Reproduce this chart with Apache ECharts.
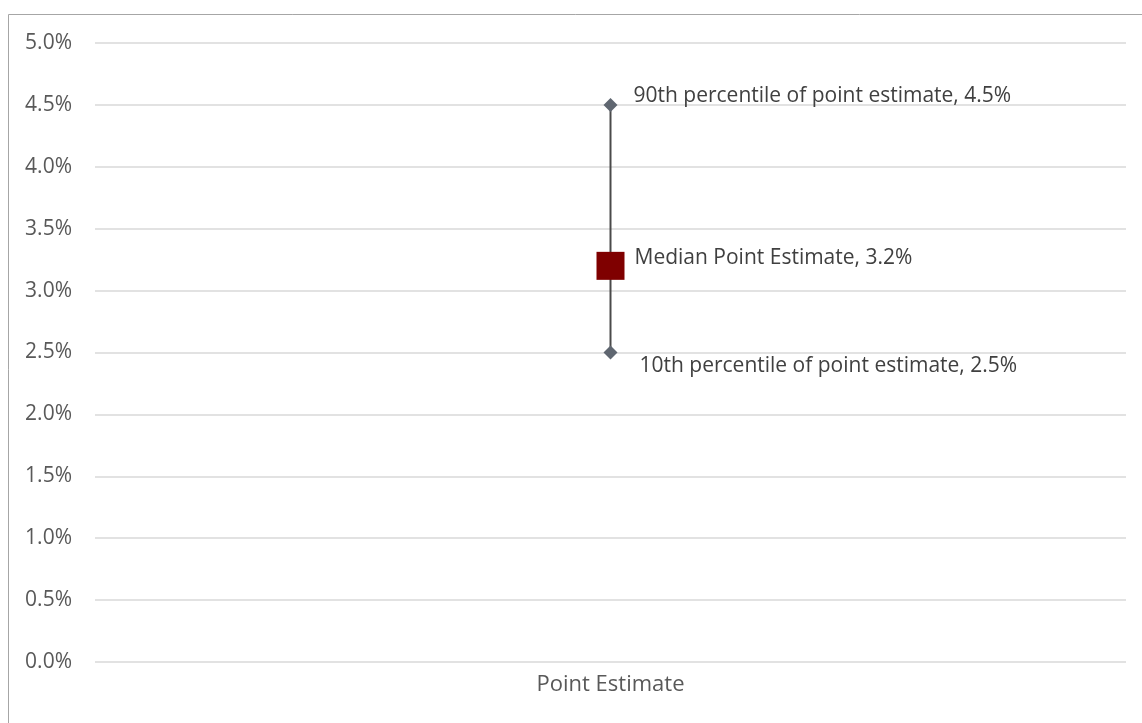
<!DOCTYPE html>
<html><head><meta charset="utf-8">
<script src="https://cdn.jsdelivr.net/npm/echarts@6/dist/echarts.min.js"></script>
<style>html,body{margin:0;padding:0;background:#fff}#c{width:1142px;height:723px}</style>
</head><body><div id="c"></div>
<script>
const categories = ['Point Estimate'];
const p10 = [2.5];
const median = [3.2];
const p90 = [4.5];
const yTicks = [0, 0.5, 1, 1.5, 2, 2.5, 3, 3.5, 4, 4.5, 5];

const FONT = 'Open Sans';
const FS = 21;
const chart = echarts.init(document.getElementById('c'), null, {renderer: 'canvas'});
chart.setOption({
  animation: false,
  backgroundColor: '#fff',
  graphic: [{type: 'rect', shape: {x: 8.5, y: 14.5, width: 1200, height: 800}, style: {fill: 'none', stroke: '#a6a6a6', lineWidth: 1}, silent: true}],
  grid: {left: 95, right: 16, top: 43, bottom: 61, containLabel: false},
  xAxis: {type: 'category', data: categories, boundaryGap: true,
    axisLine: {show: false}, axisTick: {show: false},
    axisLabel: {color: '#595959', fontFamily: FONT, fontSize: 22, margin: 12}},
  yAxis: {type: 'value', min: yTicks[0], max: yTicks[yTicks.length - 1], interval: 0.5,
    axisLine: {show: false}, axisTick: {show: false},
    splitLine: {lineStyle: {color: '#d9d9d9', width: 1.5}},
    axisLabel: {color: '#595959', fontFamily: FONT, fontSize: FS, margin: 23, formatter: v => v.toFixed(1) + '%'}},
  series: [
    {type: 'line', data: categories.flatMap((c, i) => [[i, p10[i]], [i, p90[i]]]),
     symbol: 'diamond', symbolSize: 14,
     lineStyle: {color: '#4a4a4a', width: 2}, itemStyle: {color: '#5f6670'},
     label: {show: true, fontFamily: FONT, fontSize: FS, color: '#404040',
       formatter: p => (p.dataIndex % 2 === 0 ? '10th percentile of point estimate, ' : '90th percentile of point estimate, ') + p.value[1].toFixed(1) + '%',
       position: 'right', distance: 0},
     labelLayout: p => ({dx: p.dataIndex % 2 === 0 ? 22 : 16, dy: p.dataIndex % 2 === 0 ? 14 : -9})
    },
    {type: 'scatter', data: categories.map((c, i) => [i, median[i]]),
     symbol: 'rect', symbolSize: 28, itemStyle: {color: '#7f0000', opacity: 1},
     label: {show: true, position: 'right', distance: 10, fontFamily: FONT, fontSize: FS, color: '#404040',
       formatter: p => 'Median Point Estimate, ' + p.value[1].toFixed(1) + '%', offset: [0, -8]},
     emphasis: {disabled: true},
     z: 3}
  ]
});
</script></body></html>
